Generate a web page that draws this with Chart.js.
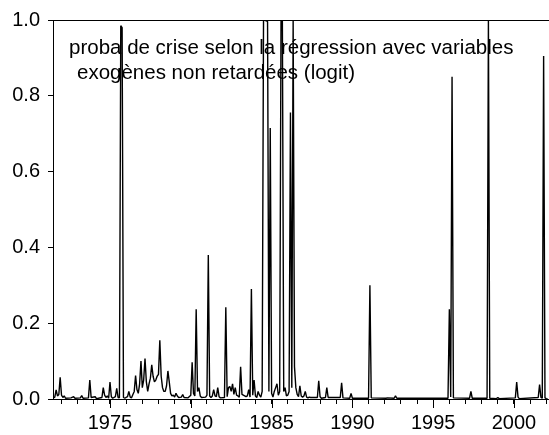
<!DOCTYPE html>
<html>
<head>
<meta charset="utf-8">
<script src="https://cdn.jsdelivr.net/npm/chart.js@4.4.1/dist/chart.umd.min.js"></script>
<style>
  html, body { margin: 0; padding: 0; background: #fff; }
  #box { width: 549px; height: 435px; }
</style>
</head>
<body>
<div id="box"><canvas id="myChart"></canvas></div>
<script>
var obsMonths = [
  "1971-07","1971-08","1971-09","1971-10","1971-11","1971-12",
  "1972-01","1972-02","1972-03","1972-04","1972-08","1972-10","1972-11",
  "1973-03","1973-04","1973-05","1973-09","1973-10","1973-11",
  "1974-02","1974-03","1974-07","1974-08","1974-09","1974-10","1974-11","1974-12",
  "1975-01","1975-02","1975-03","1975-05","1975-06","1975-07","1975-08","1975-09","1975-10","1975-11","1975-12",
  "1976-01","1976-02","1976-03","1976-04","1976-05","1976-06","1976-07","1976-08","1976-09","1976-10","1976-11","1976-12",
  "1977-01","1977-02","1977-03","1977-04","1977-05","1977-06","1977-07","1977-08","1977-09","1977-10","1977-11","1977-12",
  "1978-01","1978-02","1978-03","1978-04","1978-05","1978-06","1978-07","1978-08","1978-09","1978-10","1978-11","1978-12",
  "1979-01","1979-02","1979-03","1979-04","1979-06","1979-07","1979-08","1979-11",
  "1980-01","1980-02","1980-03","1980-04","1980-05","1980-06","1980-07","1980-08","1980-09","1980-12",
  "1981-01","1981-02","1981-03","1981-04","1981-05","1981-06","1981-07","1981-08","1981-09","1981-10","1981-11",
  "1982-02","1982-03","1982-04","1982-05","1982-06","1982-07","1982-08","1982-09","1982-10","1982-11","1982-12",
  "1983-01","1983-02","1983-03","1983-04","1983-05","1983-06","1983-07","1983-08","1983-09","1983-10","1983-11","1983-12",
  "1984-01","1984-02","1984-03","1984-04","1984-05","1984-06","1984-07","1984-08","1984-09","1984-10","1984-11","1984-12",
  "1985-01","1985-02","1985-03","1985-04","1985-05","1985-06","1985-07","1985-08","1985-09","1985-10","1985-11","1985-12",
  "1986-01","1986-02","1986-03","1986-04","1986-05","1986-06","1986-07","1986-08","1986-09","1986-10","1986-11","1986-12",
  "1987-01","1987-02","1987-03","1987-04","1987-05","1987-06","1987-11","1987-12",
  "1988-01","1988-02","1988-05","1988-06","1988-07",
  "1989-04","1989-05","1989-06","1989-11","1989-12",
  "1990-01",
  "1991-01","1991-02","1991-03",
  "1992-02","1992-03","1992-08","1992-09","1992-10",
  "1995-12",
  "1996-01","1996-02","1996-03","1996-04",
  "1997-04","1997-05","1997-06",
  "1998-05","1998-06","1998-07","1998-12",
  "1999-01","1999-02",
  "2000-02","2000-03","2000-04","2000-05",
  "2001-07","2001-08","2001-09","2001-10","2001-11","2001-12",
  "2002-01","2002-02"
];
var crisisProba = [
  0.003,0.005,0.024,0.008,0.012,0.057,
  0.010,0.004,0.008,0.002,0.003,0.006,0.002,
  0.003,0.009,0.002,0.003,0.050,0.004,
  0.006,0.001,0.004,0.030,0.010,0.004,0.008,0.002,
  0.045,0.006,0.002,0.006,0.028,0.004,0.003,0.985,0.980,0.004,0.002,
  0.004,0.006,0.020,0.005,0.003,0.012,0.020,0.062,0.025,0.015,0.040,0.100,
  0.030,0.050,0.107,0.045,0.020,0.040,0.055,0.090,0.060,0.045,0.050,0.060,
  0.065,0.155,0.060,0.030,0.020,0.020,0.035,0.074,0.045,0.015,0.008,0.010,
  0.005,0.015,0.008,0.004,0.005,0.012,0.004,0.003,
  0.010,0.097,0.015,0.008,0.237,0.020,0.030,0.008,0.004,0.005,
  0.010,0.380,0.008,0.004,0.008,0.025,0.008,0.006,0.030,0.006,0.003,
  0.004,0.242,0.006,0.030,0.033,0.020,0.040,0.012,0.030,0.010,0.008,
  0.005,0.085,0.012,0.010,0.008,0.006,0.008,0.025,0.005,0.290,0.010,0.050,
  0.008,0.004,0.020,0.010,0.005,0.020,0.999,0.999,0.998,0.996,0.020,0.715,
  0.015,0.005,0.020,0.030,0.040,0.010,0.020,1.000,1.000,0.020,0.030,0.008,
  0.010,0.020,0.756,0.030,1.000,0.085,0.030,0.012,0.006,0.035,0.008,0.005,
  0.008,0.020,0.005,0.003,0.005,0.004,0.004,0.048,
  0.006,0.002,0.004,0.030,0.004,
  0.004,0.043,0.003,0.002,0.015,
  0.002,
  0.002,0.300,0.003,
  0.002,0.003,0.002,0.008,0.002,
  0.002,
  0.237,0.005,0.850,0.003,
  0.002,0.020,0.002,
  0.002,0.999,0.002,0.001,
  0.004,0.001,
  0.003,0.045,0.005,0.001,
  0.004,0.038,0.004,0.002,0.905,0.003,
  0.001,0.000
];
var majorYears = [1975, 1980, 1985, 1990, 1995, 2000];
var yTicks = [0, 0.2, 0.4, 0.6, 0.8, 1.0];
var noteLines = ["proba de crise selon la régression avec variables",
                 "exogènes non retardées (logit)"];

var xMin = 1971.473, xMax = 2002.166;
var FONT = '"Liberation Sans", Arial, sans-serif';

var points = obsMonths.map(function(m, i){
    return { x: +m.slice(0, 4) + (+m.slice(5) - 1) / 12, y: crisisProba[i] };
});

var decor = {
    id: 'decor',
    beforeDatasetsDraw: function(chart){
        var ctx = chart.ctx;
        ctx.save();
        ctx.font = '20.5px ' + FONT;
        ctx.fillStyle = '#000';
        ctx.textBaseline = 'alphabetic';
        ctx.fillText(noteLines[0], 69, 54);
        ctx.fillText(noteLines[1], 77, 79);
        ctx.restore();
    },
    afterDraw: function(chart){
        var ctx = chart.ctx, a = chart.chartArea, x = chart.scales.x;
        ctx.save();
        ctx.strokeStyle = '#000';
        ctx.lineWidth = 1;
        ctx.beginPath();
        ctx.moveTo(a.left, a.top + 0.5);
        ctx.lineTo(a.right, a.top + 0.5);
        majorYears.forEach(function(yr){
            var px = Math.round(x.getPixelForValue(yr)) + 0.5;
            ctx.moveTo(px, a.bottom);
            ctx.lineTo(px, a.bottom + 9);
        });
        ctx.stroke();
        ctx.restore();
    }
};

var ctx = document.getElementById("myChart").getContext('2d');
var myChart = new Chart(ctx, {
    type: 'line',
    data: {
        datasets: [{
            data: points,
            borderColor: '#000',
            borderWidth: 1.4,
            borderJoinStyle: 'bevel',
            pointRadius: 0,
            tension: 0,
            fill: false
        }]
    },
    options: {
        responsive: true,
        maintainAspectRatio: false,
        animation: false,
        layout: { padding: { top: 20, left: 0, right: 0, bottom: 0 } },
        plugins: { legend: { display: false }, tooltip: { enabled: false } },
        scales: {
            x: {
                type: 'linear',
                min: xMin,
                max: xMax,
                afterFit: function(s){
                    s.height = 36;
                    s.paddingLeft = 0;
                    s.paddingRight = 0;
                },
                afterBuildTicks: function(s){
                    var t = [];
                    for (var yr = 1972; yr <= 2002; yr++) t.push({ value: yr });
                    s.ticks = t;
                },
                grid: { display: true, drawOnChartArea: false, drawTicks: true, tickLength: 5, color: '#000', tickColor: '#000', lineWidth: 1 },
                border: { display: true, color: '#000', width: 1 },
                ticks: {
                    autoSkip: false,
                    maxRotation: 0,
                    padding: 7,
                    color: '#000',
                    font: { family: FONT, size: 20 },
                    callback: function(v){ return majorYears.indexOf(v) >= 0 ? String(v) : ''; }
                }
            },
            y: {
                min: 0,
                max: 1,
                afterFit: function(s){ s.width = 53; },
                afterBuildTicks: function(s){
                    s.ticks = yTicks.map(function(v){ return { value: v }; });
                },
                grid: { display: true, drawOnChartArea: false, drawTicks: true, tickLength: 5, color: '#000', tickColor: '#000', lineWidth: 1 },
                border: { display: true, color: '#000', width: 1 },
                ticks: {
                    padding: 8,
                    color: '#000',
                    font: { family: FONT, size: 20 },
                    callback: function(v){ return v.toFixed(1); }
                }
            }
        }
    },
    plugins: [decor]
});
</script>
</body>
</html>
